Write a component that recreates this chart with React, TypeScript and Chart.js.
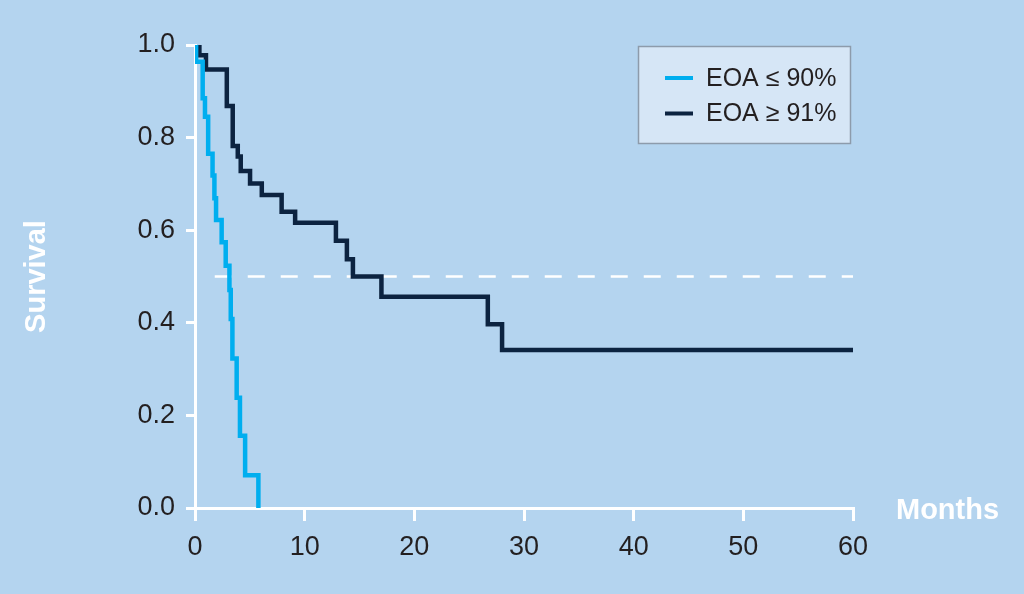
import { useEffect, useRef } from 'react';
import { Chart, registerables } from 'chart.js';

Chart.register(...registerables);

// Kaplan-Meier curves: time in months, survival fraction
const lowMonths = [0, 0.1, 0.7, 0.91, 1.2, 1.6, 1.77, 1.92, 2.43, 2.8, 3.14, 3.26, 3.41, 3.8, 4.1, 4.57, 5.78];
const lowSurvival = [1.0, 0.964, 0.885, 0.845, 0.765, 0.718, 0.669, 0.622, 0.574, 0.523, 0.471, 0.408, 0.323, 0.238, 0.156, 0.071, 0.0];

const highMonths = [0, 0.4, 1.0, 2.9, 3.44, 3.9, 4.17, 5.02, 6.09, 7.9, 9.13, 12.85, 13.85, 14.4, 17.0, 26.7, 28.0, 60];
const highSurvival = [1.0, 0.978, 0.947, 0.868, 0.782, 0.759, 0.728, 0.701, 0.676, 0.64, 0.616, 0.577, 0.537, 0.5, 0.456, 0.397, 0.341, 0.341];

// median reference line
const medianMonths = [1.8, 60];
const medianSurvival = [0.5, 0.5];

const seriesLabels = ['EOA ≤ 90%', 'EOA ≥ 91%'];
const xTicks = [0, 10, 20, 30, 40, 50, 60];
const yTicks = [0, 0.2, 0.4, 0.6, 0.8, 1.0];

const FONT = '"Liberation Sans", Arial, Helvetica, sans-serif';
const LIGHT = '#00aeef';
const DARK = '#0c2340';
const TEXT = '#231f20';

const toPoints = (xs: number[], ys: number[]) => xs.map((x, i) => ({ x, y: ys[i] }));

// legend box and the "Months" label sitting next to the x axis
const extras = {
  id: 'extras',
  afterDraw(chart: any) {
    const { ctx, chartArea } = chart;
    ctx.save();
    ctx.fillStyle = '#d6e6f6';
    ctx.strokeStyle = '#8d9bab';
    ctx.lineWidth = 1.5;
    ctx.fillRect(638.5, 46.5, 212, 97);
    ctx.strokeRect(638.5, 46.5, 212, 97);

    ctx.font = `25px ${FONT}`;
    ctx.textBaseline = 'middle';
    ctx.textAlign = 'left';
    seriesLabels.forEach((label, i) => {
      const y = 78 + i * 35.5;
      ctx.strokeStyle = chart.data.datasets[i].borderColor;
      ctx.lineWidth = 4;
      ctx.beginPath();
      ctx.moveTo(665, y);
      ctx.lineTo(693, y);
      ctx.stroke();
      ctx.fillStyle = TEXT;
      ctx.fillText(label, 706, y + 1);
    });

    ctx.font = `bold 29px ${FONT}`;
    ctx.fillStyle = '#ffffff';
    ctx.textBaseline = 'alphabetic';
    ctx.fillText('Months', chartArea.right + 43, chartArea.bottom + 11);
    ctx.restore();
  },
};

export default function App() {
  const canvasRef = useRef<HTMLCanvasElement>(null);

  useEffect(() => {
    document.body.style.margin = '0';
    if (!canvasRef.current) return;
    const ctx = canvasRef.current.getContext('2d');
    if (!ctx) return;

    const chart = new Chart(ctx, {
      type: 'line',
      data: {
        datasets: [
          {
            label: seriesLabels[0],
            data: toPoints(lowMonths, lowSurvival),
            borderColor: LIGHT,
            borderWidth: 4.5,
            stepped: true,
            pointRadius: 0,
            borderJoinStyle: 'miter',
            fill: false,
          },
          {
            label: seriesLabels[1],
            data: toPoints(highMonths, highSurvival),
            borderColor: DARK,
            borderWidth: 4.5,
            stepped: true,
            pointRadius: 0,
            borderJoinStyle: 'miter',
            fill: false,
          },
          {
            label: 'median',
            data: toPoints(medianMonths, medianSurvival),
            borderColor: '#ffffff',
            borderWidth: 2.5,
            borderDash: [17, 16],
            pointRadius: 0,
            fill: false,
          },
        ],
      },
      options: {
        responsive: true,
        maintainAspectRatio: false,
        animation: false,
        layout: { padding: { left: 0, top: 45, right: 171, bottom: 0 } },
        plugins: {
          legend: { display: false },
          tooltip: { enabled: false },
        },
        scales: {
          x: {
            type: 'linear',
            min: 0,
            max: 60,
            afterBuildTicks: (scale: any) => {
              scale.ticks = xTicks.map(value => ({ value }));
            },
            afterFit: (scale: any) => {
              scale.height = 86;
            },
            border: { color: '#ffffff', width: 3 },
            grid: {
              drawOnChartArea: false,
              drawTicks: true,
              color: '#ffffff',
              lineWidth: 3,
              tickLength: 13,
            },
            ticks: {
              color: TEXT,
              padding: 10,
              font: { family: FONT, size: 27 },
            },
          },
          y: {
            type: 'linear',
            min: 0,
            max: 1,
            afterBuildTicks: (scale: any) => {
              scale.ticks = yTicks.map(value => ({ value }));
            },
            afterFit: (scale: any) => {
              scale.width = 195;
            },
            border: { color: '#ffffff', width: 3 },
            grid: {
              drawOnChartArea: false,
              drawTicks: true,
              color: '#ffffff',
              lineWidth: 3,
              tickLength: 9,
            },
            ticks: {
              color: TEXT,
              padding: 11,
              font: { family: FONT, size: 27 },
              callback: (value: any) => Number(value).toFixed(1),
            },
            title: {
              display: true,
              text: 'Survival',
              color: '#ffffff',
              padding: { top: 20, bottom: 0 },
              font: { family: FONT, size: 29, weight: 'bold' },
            },
          },
        },
      },
      plugins: [extras],
    });

    return () => {
      chart.destroy();
    };
  }, []);

  return (
    <div style={{ width: 1024, height: 594, background: '#b4d4ef' }}>
      <canvas ref={canvasRef}></canvas>
    </div>
  );
}
